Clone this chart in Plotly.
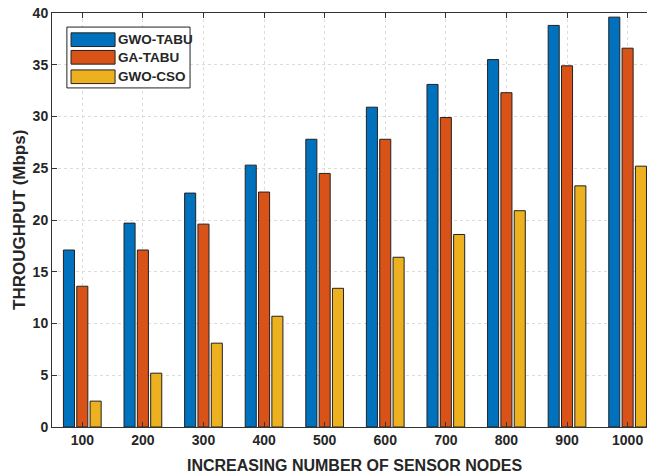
import plotly.graph_objects as go

nodes = ["100", "200", "300", "400", "500", "600", "700", "800", "900", "1000"]
gwo_tabu = [17.1, 19.7, 22.6, 25.3, 27.8, 30.9, 33.1, 35.5, 38.8, 39.6]
ga_tabu = [13.6, 17.1, 19.6, 22.7, 24.5, 27.8, 29.9, 32.3, 34.9, 36.6]
gwo_cso = [2.5, 5.2, 8.1, 10.7, 13.4, 16.4, 18.6, 20.9, 23.3, 25.2]
series_names = ["GWO-TABU", "GA-TABU", "GWO-CSO"]
colors = ["#0072BD", "#D95319", "#EDB120"]

FONT = "Liberation Sans, Arial, sans-serif"
TXT = "#262626"

fig = go.Figure()
for name, vals, col in zip(series_names, [gwo_tabu, ga_tabu, gwo_cso], colors):
    fig.add_trace(go.Bar(x=nodes, y=vals, name=name,
                         marker=dict(color=col, line=dict(color="#222", width=1)),
                         showlegend=False))

# manual legend (MATLAB style)
fig.add_shape(type="rect", xref="paper", yref="paper", x0=0.025, x1=0.232, y0=0.819, y1=0.966,
              line=dict(color="#222", width=1), fillcolor="white", layer="above")
row_y = [0.9355, 0.893, 0.846]
for yc, name, col in zip(row_y, series_names, colors):
    fig.add_shape(type="rect", xref="paper", yref="paper", x0=0.032, x1=0.106, y0=yc - 0.0165, y1=yc + 0.0165,
                  line=dict(color="#222", width=1), fillcolor=col, layer="above")
    fig.add_annotation(xref="paper", yref="paper", x=0.108, y=yc, text="<b>%s</b>" % name, showarrow=False,
                       xanchor="left", yanchor="middle", font=dict(family=FONT, size=13.5, color=TXT))

# axis titles
fig.add_annotation(xref="paper", yref="paper", x=0.509, y=0, yshift=-38, text="<b>INCREASING NUMBER OF SENSOR NODES</b>",
                   showarrow=False, xanchor="center", yanchor="middle", font=dict(family=FONT, size=16, color=TXT))
fig.add_annotation(xref="paper", yref="paper", x=0, xshift=-33, y=0.5, text="<b>THROUGHPUT (Mbps)</b>", textangle=-90,
                   showarrow=False, xanchor="center", yanchor="middle", font=dict(family=FONT, size=17, color=TXT))

fig.update_layout(
    width=647, height=474,
    margin=dict(l=52, r=0, t=13, b=47),
    plot_bgcolor="white", paper_bgcolor="white",
    bargap=0.34, bargroupgap=0.17, barmode="group",
    font=dict(family=FONT, size=13, color=TXT),
    xaxis=dict(range=[-0.5, 9.32], automargin=False, showline=True, linecolor="#333", linewidth=1, mirror="ticks",
               ticks="inside", ticklen=5, tickcolor="#333",
               showgrid=True, gridcolor="#dcdcdc", griddash="dot",
               tickfont=dict(family=FONT, size=14, color=TXT), ticklabeloverflow="allow",
               tickprefix="<b>", ticksuffix="</b>"),
    yaxis=dict(range=[0, 40], dtick=5, automargin=False, showline=True, linecolor="#333", linewidth=1, mirror=False,
               ticks="inside", ticklen=5, tickcolor="#333",
               showgrid=True, gridcolor="#dcdcdc", griddash="dot", zeroline=False,
               tickfont=dict(family=FONT, size=14, color=TXT), ticklabeloverflow="allow",
               tickprefix="<b>", ticksuffix="</b>"),
)

# remove the page's default 8px body margin so the figure fills the window exactly
fig.write_html("out.html", config={"displayModeBar": False},
               post_script="document.body.style.margin='0';document.body.style.overflow='hidden';")
